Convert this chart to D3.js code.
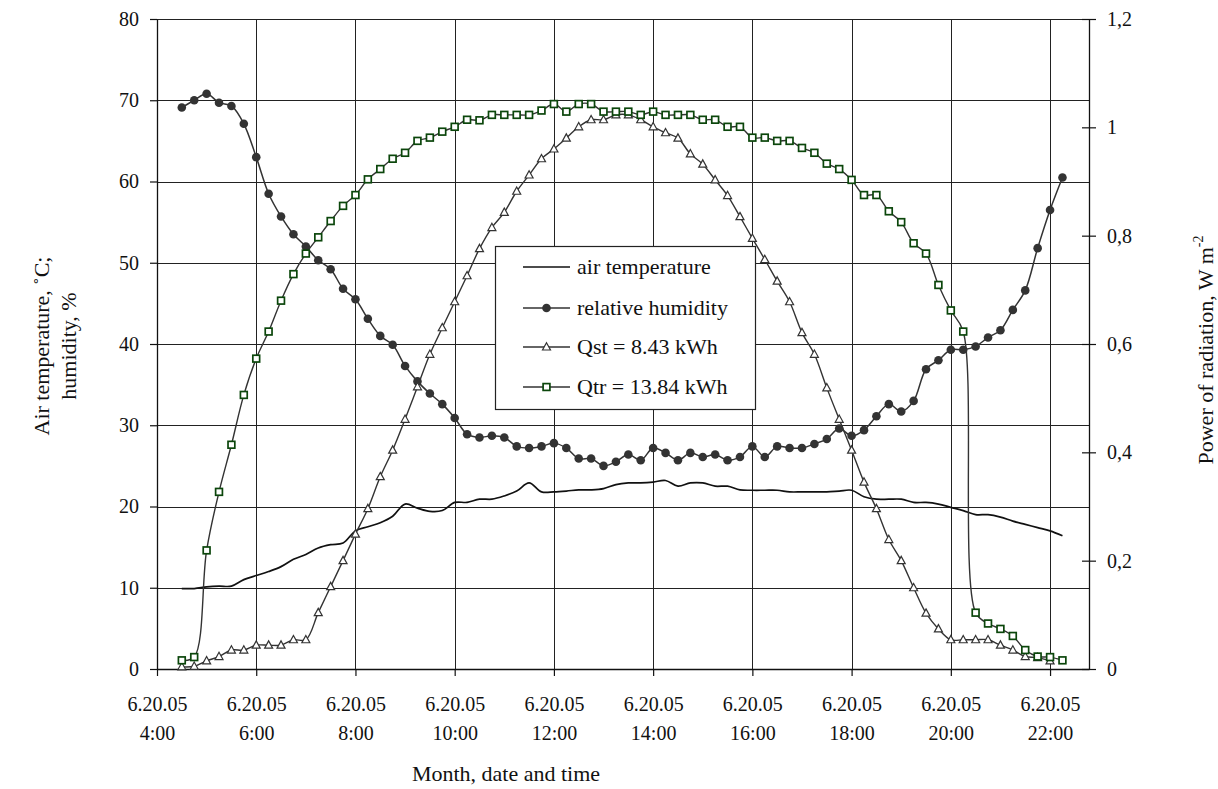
<!DOCTYPE html>
<html><head><meta charset="utf-8">
<script src="https://cdn.jsdelivr.net/npm/d3@7"></script>
<style>body{margin:0;background:#fff}svg{display:block}</style>
</head><body>
<svg id="c" width="1218" height="789"></svg>
<script>
// ---- DATA ----
const times = ["4:30","4:45","5:00","5:15","5:30","5:45","6:00","6:15","6:30","6:45",
"7:00","7:15","7:30","7:45","8:00","8:15","8:30","8:45","9:00","9:15",
"9:30","9:45","10:00","10:15","10:30","10:45","11:00","11:15","11:30","11:45",
"12:00","12:15","12:30","12:45","13:00","13:15","13:30","13:45","14:00","14:15",
"14:30","14:45","15:00","15:15","15:30","15:45","16:00","16:15","16:30","16:45",
"17:00","17:15","17:30","17:45","18:00","18:15","18:30","18:45","19:00","19:15",
"19:30","19:45","20:00","20:15","20:30","20:45","21:00","21:15","21:30","21:45",
"22:00","22:15"];
const airTemperature = [9.9,9.9,10.1,10.2,10.2,11.0,11.5,12.0,12.6,13.5,
14.1,14.9,15.3,15.5,17.0,17.5,18.0,18.8,20.3,19.8,
19.4,19.5,20.5,20.5,20.9,20.9,21.3,21.9,22.9,21.8,
21.8,21.9,22.05,22.05,22.2,22.7,22.9,22.9,23.0,23.2,
22.5,22.9,22.9,22.5,22.5,22.05,22.0,22.0,22.0,21.8,
21.8,21.8,21.8,21.9,22.0,21.2,20.9,20.9,20.9,20.5,
20.5,20.3,19.9,19.5,19.0,19.0,18.7,18.2,17.8,17.4,
17.0,16.4];
const relativeHumidity = [69.1,70.0,70.8,69.7,69.3,67.1,63.0,58.5,55.7,53.5,
52.0,50.3,49.2,46.8,45.5,43.1,41.0,39.9,37.3,35.4,
33.9,32.6,30.9,28.9,28.5,28.7,28.5,27.4,27.2,27.4,
27.8,27.2,25.9,25.9,25.0,25.5,26.4,25.7,27.2,26.6,
25.7,26.6,26.1,26.4,25.7,26.1,27.4,26.1,27.4,27.2,
27.2,27.7,28.3,29.6,28.7,29.4,31.1,32.6,31.7,33.0,
36.9,38.0,39.3,39.3,39.7,40.8,41.7,44.2,46.6,51.8,
56.5,60.5];
// W m-2 (right axis)
const qst = [0.004,0.005,0.015,0.023,0.035,0.035,0.044,0.044,0.044,0.054,
0.054,0.104,0.152,0.200,0.249,0.296,0.355,0.404,0.461,0.521,
0.581,0.630,0.678,0.726,0.776,0.815,0.843,0.882,0.912,0.942,
0.960,0.980,1.001,1.014,1.014,1.023,1.023,1.014,1.001,0.990,
0.980,0.951,0.932,0.903,0.874,0.835,0.795,0.756,0.716,0.678,
0.621,0.581,0.519,0.461,0.404,0.345,0.296,0.239,0.200,0.150,
0.103,0.074,0.054,0.054,0.054,0.054,0.044,0.035,0.023,0.021,
0.015];
const qtr = [0.016,0.022,0.219,0.327,0.414,0.506,0.573,0.623,0.680,0.729,
0.767,0.797,0.827,0.855,0.875,0.904,0.923,0.942,0.953,0.975,
0.981,0.992,1.001,1.014,1.013,1.023,1.023,1.023,1.023,1.031,
1.043,1.029,1.043,1.043,1.029,1.029,1.029,1.023,1.029,1.023,
1.023,1.023,1.014,1.014,1.001,1.001,0.981,0.981,0.975,0.975,
0.962,0.953,0.933,0.923,0.903,0.875,0.875,0.845,0.825,0.786,
0.767,0.709,0.662,0.623,0.104,0.084,0.074,0.061,0.035,0.023,
0.022,0.016];
const xTickTimes = ["4:00","6:00","8:00","10:00","12:00","14:00","16:00","18:00","20:00","22:00"];
const xDateLabel = "6.20.05";
const leftTicks = [0,10,20,30,40,50,60,70,80];
const rightTicks = [0,0.2,0.4,0.6,0.8,1.0,1.2];
const rightTickLabels = ["0","0,2","0,4","0,6","0,8","1","1,2"];
const legendLabels = ["air temperature","relative humidity","Qst = 8.43 kWh","Qtr = 13.84 kWh"];

// ---- CHART ----
const toH = s => { const [h,m] = s.split(":").map(Number); return h + m/60; };
const svg = d3.select("#c");
const L = 157, R = 1089, T = 19, B = 669;
const FONT = "'Liberation Serif','Times New Roman',serif";
const x = d3.scaleLinear().domain([4, 22.785]).range([L, R]);
const yL = d3.scaleLinear().domain([0, 80]).range([B, T]);
const yR = d3.scaleLinear().domain([0, 1.2]).range([B, T]);
const px = v => Math.round(v) + 0.5;

// grid
const grid = svg.append("g").attr("stroke", "#222").attr("stroke-width", 1);
leftTicks.forEach(t => grid.append("line").attr("x1", L).attr("x2", R).attr("y1", px(yL(t))).attr("y2", px(yL(t))));
xTickTimes.slice(1).forEach(t => grid.append("line").attr("x1", px(x(toH(t)))).attr("x2", px(x(toH(t)))).attr("y1", T).attr("y2", B));

// axes
const axL = svg.append("g").attr("transform", `translate(${px(L)-0.5},0)`)
  .call(d3.axisLeft(yL).tickValues(leftTicks).tickSize(7).tickPadding(11).tickSizeOuter(0));
const axR = svg.append("g").attr("transform", `translate(${px(R)-0.5},0)`)
  .call(d3.axisRight(yR).tickValues(rightTicks).tickSize(7).tickPadding(11).tickSizeOuter(0)
    .tickFormat((d,i) => rightTickLabels[i]));
axR.selectAll(".tick line").attr("x1", -7);
const axB = svg.append("g").attr("transform", `translate(0,${px(B)-0.5})`)
  .call(d3.axisBottom(x).tickValues(xTickTimes.map(toH)).tickSize(7).tickSizeOuter(0).tickFormat(""));
[axL, axR, axB].forEach(a => {
  a.selectAll("path.domain").attr("stroke", "#111").attr("stroke-width", 1.3);
  a.selectAll(".tick line").attr("stroke", "#111").attr("stroke-width", 1.2);
  a.selectAll("text").attr("font-family", FONT).attr("font-size", 20).attr("fill", "#111");
});
axB.selectAll(".tick").each(function(d, i) {
  const t = d3.select(this).append("text").attr("font-family", FONT).attr("font-size", 20)
    .attr("fill", "#111").attr("text-anchor", "middle");
  t.append("tspan").attr("x", 0).attr("y", 42).text(xDateLabel);
  t.append("tspan").attr("x", 0).attr("y", 71).text(xTickTimes[i]);
});

// axis titles
const TS = 22;
svg.append("text").attr("x", 506).attr("y", 781).attr("text-anchor", "middle")
  .attr("font-family", FONT).attr("font-size", TS).attr("fill", "#111").text("Month, date and time");
const lt = svg.append("text").attr("transform", "translate(49,346) rotate(-90)").attr("text-anchor", "middle")
  .attr("font-family", FONT).attr("font-size", TS).attr("fill", "#111");
lt.append("tspan").attr("x", 0).attr("y", 0).text("Air temperature, ˚C;");
lt.append("tspan").attr("x", 0).attr("y", 27).text("humidity, %");
const rt = svg.append("text").attr("transform", "translate(1213,350) rotate(-90)").attr("text-anchor", "middle")
  .attr("font-family", FONT).attr("font-size", TS).attr("fill", "#111");
rt.append("tspan").text("Power of radiation, W m");
rt.append("tspan").attr("dy", -10).attr("font-size", 14).text("-2");

// series
const curve = d3.curveCatmullRom.alpha(0.5);
const LINE = "#333";
const pts = arr => arr.map((v, i) => [x(toH(times[i])), v]);
const lineL = d3.line().x(d => d[0]).y(d => yL(d[1])).curve(curve);
const lineR = d3.line().x(d => d[0]).y(d => yR(d[1])).curve(curve);

svg.append("path").attr("d", lineL(pts(airTemperature))).attr("fill", "none").attr("stroke", "#111").attr("stroke-width", 1.7);
svg.append("path").attr("d", lineL(pts(relativeHumidity))).attr("fill", "none").attr("stroke", LINE).attr("stroke-width", 1.5);
svg.append("g").selectAll("circle").data(pts(relativeHumidity)).join("circle")
  .attr("cx", d => d[0]).attr("cy", d => yL(d[1])).attr("r", 4.3).attr("fill", LINE);

const triPath = "M0,-4.3L4,3L-4,3Z";
svg.append("path").attr("d", lineR(pts(qst))).attr("fill", "none").attr("stroke", LINE).attr("stroke-width", 1.4);
svg.append("g").selectAll("path").data(pts(qst)).join("path")
  .attr("d", triPath).attr("transform", d => `translate(${d[0]},${yR(d[1])})`)
  .attr("fill", "#fff").attr("stroke", LINE).attr("stroke-width", 1.2);

const GREEN = "#0b460b";
svg.append("path").attr("d", lineR(pts(qtr))).attr("fill", "none").attr("stroke", LINE).attr("stroke-width", 1.4);
svg.append("g").selectAll("rect").data(pts(qtr)).join("rect")
  .attr("x", d => d[0] - 3.4).attr("y", d => yR(d[1]) - 3.4).attr("width", 6.8).attr("height", 6.8)
  .attr("fill", "#fff").attr("stroke", GREEN).attr("stroke-width", 1.7);

// legend
const lg = svg.append("g");
lg.append("rect").attr("x", 495.5).attr("y", 246.5).attr("width", 260).attr("height", 163)
  .attr("fill", "#fff").attr("stroke", "#222").attr("stroke-width", 1.2);
const rows = [267, 308, 347, 387];
legendLabels.forEach((lab, i) => {
  const y = rows[i];
  lg.append("line").attr("x1", 523).attr("x2", 570).attr("y1", y).attr("y2", y)
    .attr("stroke", i === 0 ? "#111" : LINE).attr("stroke-width", i === 0 ? 1.7 : 1.4);
  if (i === 1) lg.append("circle").attr("cx", 546.5).attr("cy", y).attr("r", 4.3).attr("fill", LINE);
  if (i === 2) lg.append("path").attr("d", triPath).attr("transform", `translate(546.5,${y})`)
    .attr("fill", "#fff").attr("stroke", LINE).attr("stroke-width", 1.2);
  if (i === 3) lg.append("rect").attr("x", 543.1).attr("y", y - 3.4).attr("width", 6.8).attr("height", 6.8)
    .attr("fill", "#fff").attr("stroke", GREEN).attr("stroke-width", 1.7);
  lg.append("text").attr("x", 577).attr("y", y).attr("dy", "0.33em")
    .attr("font-family", FONT).attr("font-size", 22).attr("fill", "#111").text(lab);
});
</script>
</body></html>
